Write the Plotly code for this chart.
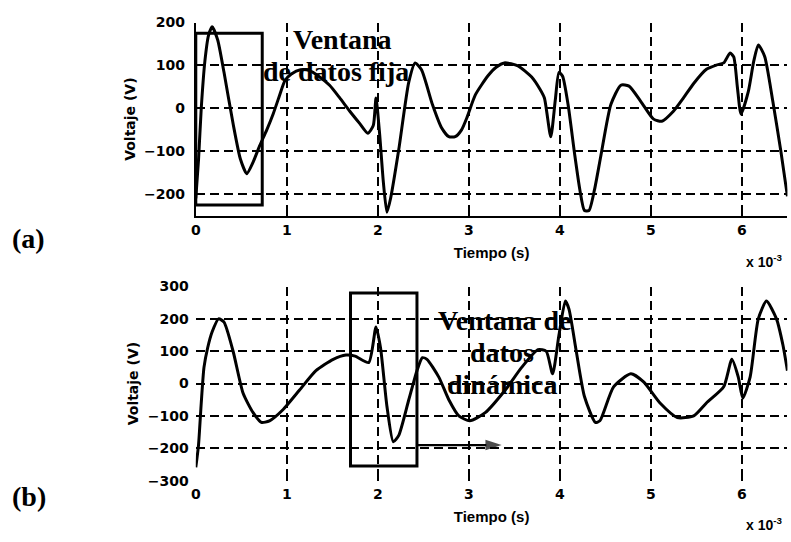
import plotly.graph_objects as go

# Señal de voltaje (a): tiempo en ms (eje en unidades de 1e-3 s) y voltaje en V
t_a = [0.00, 0.03, 0.06, 0.10, 0.14, 0.18, 0.24, 0.31, 0.41, 0.49, 0.56, 0.63, 0.70,
       0.78, 0.85, 0.92, 0.98, 1.05, 1.15, 1.25, 1.35, 1.47, 1.58, 1.69, 1.80, 1.89,
       1.95, 1.98, 2.02, 2.06, 2.10, 2.14, 2.23, 2.34, 2.41, 2.48, 2.60, 2.70, 2.78,
       2.85, 2.92, 2.98, 3.07, 3.21, 3.30, 3.39, 3.54, 3.69, 3.78, 3.83, 3.90, 3.95,
       3.99, 4.03, 4.09, 4.16, 4.22, 4.27, 4.32, 4.38, 4.45, 4.56, 4.67, 4.76, 4.89,
       5.03, 5.12, 5.25, 5.36, 5.47, 5.61, 5.72, 5.80, 5.87, 5.91, 5.95, 5.99, 6.07,
       6.13, 6.18, 6.25, 6.34, 6.43, 6.50]
v_a = [-210, -120, 0, 110, 170, 190, 160, 84, -36, -118, -152, -125, -88,
       -50, -13, 30, 65, 80, 90, 88, 75, 54, 25, -6, -35, -58,
       -40, 24, -60, -170, -242, -210, -96, 61, 106, 90, 9, -45, -66,
       -66, -50, -21, 31, 76, 96, 106, 99, 73, 45, 24, -66, 20,
       84, 75, 9, -103, -190, -238, -238, -190, -111, 9, 54, 52, 16,
       -25, -30, -6, 25, 58, 91, 101, 106, 129, 120, 50, -13, 39,
       110, 148, 121, 16, -103, -205]

# Señal de voltaje (b)
t_b = [0.00, 0.03, 0.06, 0.09, 0.13, 0.18, 0.25, 0.31, 0.41, 0.52, 0.63, 0.72, 0.81,
       0.96, 1.14, 1.32, 1.51, 1.65, 1.75, 1.90, 1.98, 2.03, 2.10, 2.17, 2.23, 2.34,
       2.43, 2.49, 2.54, 2.67, 2.78, 2.89, 3.01, 3.18, 3.40, 3.58, 3.76, 3.85, 3.92,
       3.99, 4.06, 4.10, 4.18, 4.27, 4.39, 4.44, 4.59, 4.78, 4.92, 5.10, 5.29, 5.47,
       5.61, 5.80, 5.89, 5.96, 6.01, 6.09, 6.18, 6.27, 6.38, 6.45, 6.50]
v_b = [-259, -190, -60, 50, 110, 160, 200, 190, 100, -30, -90, -120, -115,
       -80, -20, 40, 75, 88, 85, 65, 175, 110, -70, -180, -160, -50,
       40, 80, 75, 20, -50, -100, -115, -90, -20, 50, 105, 100, 30,
       150, 255, 230, 100, -40, -120, -115, -10, 30, 5, -60, -105, -100,
       -60, -10, 75, 20, -45, 20, 200, 255, 200, 120, 40]

x_ticks = [0, 1, 2, 3, 4, 5, 6]
y_ticks_a = [-200, -100, 0, 100, 200]
y_ticks_b = [-300, -200, -100, 0, 100, 200, 300]
x_rango = [0, 6.5]

# Ventanas de datos: [t_ini, t_fin, v_min, v_max]
ventana_fija = [0.0, 0.73, -225, 175]
ventana_dinamica = [1.70, 2.43, -255, 280]
flecha_y = -190
flecha_fin = 3.36

W, H = 791, 542


def px(x):
    return x / W


def py(y):
    return 1 - y / H


tick_font = dict(family="DejaVu Sans", size=14, color="black", weight="bold")
x_title = dict(text="Tiempo (s)", standoff=10,
               font=dict(family="Liberation Sans", size=15, color="black", weight="bold"))
y_title = dict(text="Voltaje (V)", standoff=5,
               font=dict(family="DejaVu Sans", size=14, color="black", weight="bold"))
base = dict(showgrid=True, gridcolor="black", gridwidth=1.6, griddash="9px,5px",
            zeroline=False, linecolor="black", linewidth=2, mirror=False,
            ticks="inside", ticklen=4, tickwidth=1.5, tickcolor="black",
            color="black", tickfont=tick_font)

fig = go.Figure()
curva = dict(color="black", width=3, shape="spline", smoothing=0.6)
fig.add_trace(go.Scatter(x=t_a, y=v_a, mode="lines", xaxis="x", yaxis="y",
                         line=curva, showlegend=False, hoverinfo="skip"))
fig.add_trace(go.Scatter(x=t_b, y=v_b, mode="lines", xaxis="x2", yaxis="y2",
                         line=curva, showlegend=False, hoverinfo="skip"))

# Flecha que indica el desplazamiento de la ventana dinámica
fig.add_trace(go.Scatter(x=[ventana_dinamica[1], flecha_fin], y=[flecha_y, flecha_y],
                         mode="lines+markers", xaxis="x2", yaxis="y2",
                         line=dict(color="black", width=2.2),
                         marker=dict(symbol=["circle", "arrow"], size=[0, 17],
                                     angleref="previous", color="black",
                                     line=dict(width=0)),
                         showlegend=False, hoverinfo="skip"))

x_right = 192 + x_rango[1] * 91.6
fig.update_layout(
    width=W, height=H, margin=dict(l=0, r=0, t=0, b=0),
    paper_bgcolor="white", plot_bgcolor="white",
    xaxis=dict(domain=[px(192), px(x_right)], range=x_rango, tickvals=x_ticks,
               anchor="y", showline=True, ticklabelstandoff=1, title=x_title, **base),
    yaxis=dict(domain=[py(214), py(15)], range=[-250, 200], tickvals=y_ticks_a,
               anchor="x", showline=True, ticklabelstandoff=6, title=y_title, **base),
    xaxis2=dict(domain=[px(192), px(x_right)], range=x_rango, tickvals=x_ticks,
                anchor="y2", showline=False, ticklabelstandoff=3, title=x_title, **base),
    yaxis2=dict(domain=[py(487), py(287)], range=[-300, 300], tickvals=y_ticks_b,
                anchor="x2", showline=False, ticklabelstandoff=6, title=y_title, **base),
)

for xr, yr, win in (("x", "y", ventana_fija), ("x2", "y2", ventana_dinamica)):
    fig.add_shape(type="rect", xref=xr, yref=yr, x0=win[0], x1=win[1], y0=win[2], y1=win[3],
                  line=dict(color="black", width=3), layer="above")

serif = dict(family="Liberation Serif", size=28, color="black", weight="bold")
sans = dict(family="Liberation Sans", size=14, color="black", weight="bold")


def label(text, x, y, font):
    fig.add_annotation(xref="paper", yref="paper", x=px(x), y=py(y), text=text,
                       showarrow=False, font=font, xanchor="center", yanchor="middle")


label("Ventana", 340, 32, serif)
label("de datos fija", 333, 65, serif)
label("Ventana de", 503, 322, serif)
label("datos", 500, 355, serif)
label("dinámica", 500, 388, serif)

label("(a)", 24, 237, serif)
label("(b)", 24, 503, serif)

label("x 10<sup>-3</sup>", 764, 261, sans)
label("x 10<sup>-3</sup>", 764, 532, sans)

fig.write_html("out.html")
